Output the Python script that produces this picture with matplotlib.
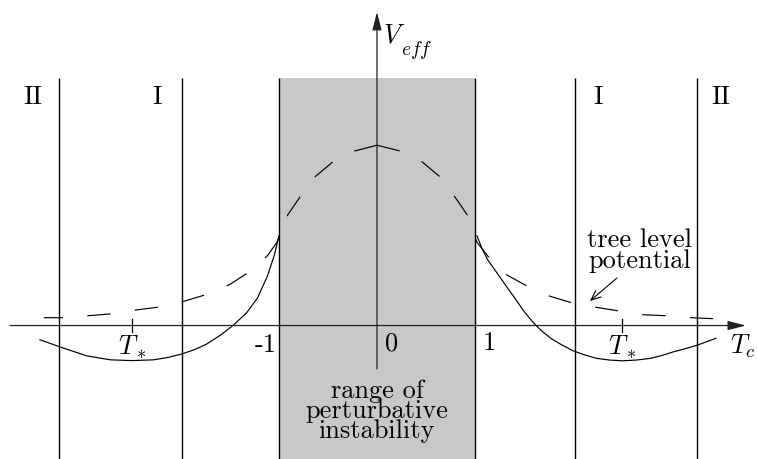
import matplotlib
matplotlib.use("Agg")
import matplotlib.pyplot as plt

plt.rcParams['mathtext.fontset'] = 'cm'
plt.rcParams['font.family'] = ['cmr10', 'DejaVu Serif']
plt.rcParams['axes.unicode_minus'] = False
plt.rcParams['lines.scale_dashes'] = False

# ---- data ----
# tree level potential (dashed), each half drawn from T_c = 0 outward
tree_x_left = [0.0, -0.23, -0.45, -0.63, -0.78, -0.91, -1.02, -1.12, -1.30, -1.50,
               -1.73, -1.96, -2.21, -2.45, -2.70, -2.95, -3.20, -3.40]
tree_y_left = [1.84, 1.78, 1.67, 1.52, 1.32, 1.13, 0.85, 0.71, 0.55, 0.42,
               0.32, 0.25, 0.19, 0.16, 0.12, 0.10, 0.08, 0.08]
tree_x_right = [0.0, 0.24, 0.46, 0.64, 0.79, 0.92, 1.02, 1.13, 1.30, 1.50,
                1.73, 1.96, 2.21, 2.46, 2.71, 2.96, 3.21, 3.43]
tree_y_right = [1.84, 1.78, 1.67, 1.52, 1.32, 1.13, 0.85, 0.71, 0.53, 0.42,
                0.31, 0.24, 0.19, 0.15, 0.11, 0.10, 0.08, 0.07]

# effective potential (solid) outside the instability range
veff_x_left = [-3.44, -3.23, -2.96, -2.72, -2.50, -2.28, -2.13, -1.99, -1.86, -1.74,
               -1.60, -1.47, -1.33, -1.22, -1.12, -1.05, -1.00]
veff_y_left = [-0.145, -0.22, -0.31, -0.35, -0.358, -0.35, -0.325, -0.29, -0.245, -0.19,
               -0.10, 0.0, 0.13, 0.28, 0.50, 0.71, 0.916]
veff_x_right = [1.02, 1.07, 1.13, 1.24, 1.32, 1.41, 1.50, 1.595, 1.68, 1.78, 1.89,
                2.00, 2.12, 2.24, 2.37, 2.50, 2.65, 2.79, 2.91, 3.02, 3.15, 3.27, 3.46]
veff_y_right = [0.916, 0.79, 0.67, 0.515, 0.40, 0.275, 0.145, 0.03, -0.055, -0.135, -0.20,
                -0.257, -0.30, -0.335, -0.352, -0.36, -0.352, -0.335, -0.305, -0.27, -0.235, -0.20, -0.13]

region_bounds = [-3.245, -1.99, 2.02, 3.265]
instability_range = [-1.0, 1.0]
region_labels = ['II', 'I', 'I', 'II']
region_label_x = [-3.51, -2.245, 2.255, 3.51]
t_star = [-2.5, 2.5]
axis_numbers = ['-1', '0', '1']

# ---- figure ----
fig = plt.figure(figsize=(7.57, 4.60), dpi=100)
ax = fig.add_axes([0, 0, 1, 1])
ax.set_xlim(-3.847, 3.878)
ax.set_ylim(-1.362, 3.332)
ax.axis('off')

top = 2.526
ax.fill_between(instability_range, -1.362, top, color='#c8c8c8', lw=0, zorder=0)
for xv in region_bounds + instability_range:
    ax.plot([xv, xv], [-1.362, top], color='black', lw=1.0, zorder=2,
            solid_capstyle='butt')

# axes with arrows
arrow_kw = dict(arrowstyle='-|>,head_length=1.1,head_width=0.28',
                lw=0.9, color='#222222', shrinkA=0, shrinkB=0, mutation_scale=10)
ax.annotate('', xy=(3.765, 0), xytext=(-3.745, 0), arrowprops=arrow_kw, zorder=3)
ax.annotate('', xy=(0, 3.199), xytext=(0, -0.444), arrowprops=arrow_kw, zorder=3)

# T* ticks
for t in t_star:
    ax.plot([t, t], [-0.07, 0.07], color='black', lw=0.9, zorder=3)

# curves
dash = (0, (16.8, 17.6))
ax.plot(tree_x_left, tree_y_left, color='black', lw=0.85, linestyle=dash, zorder=4)
ax.plot(tree_x_right, tree_y_right, color='black', lw=0.85, linestyle=dash, zorder=4)
ax.plot(veff_x_left, veff_y_left, color='black', lw=0.85, zorder=4)
ax.plot(veff_x_right, veff_y_right, color='black', lw=0.85, zorder=4)

fs = 19
for lab, xv in zip(region_labels, region_label_x):
    ax.text(xv, 2.27, lab, ha='center', va='baseline', fontsize=fs)

ax.text(0.061, 2.90, r'$V$', ha='left', va='baseline', fontsize=fs)
ax.text(0.245, 2.77, r'$eff$', ha='left', va='baseline', fontsize=14)
for t in t_star:
    ax.text(t, -0.29, r'$T_*$', ha='center', va='baseline', fontsize=fs)
ax.text(3.60, -0.28, r'$T_c$', ha='left', va='baseline', fontsize=fs)
ax.text(-1.02, -0.26, axis_numbers[0], ha='right', va='baseline', fontsize=fs)
ax.text(0.08, -0.24, axis_numbers[1], ha='left', va='baseline', fontsize=fs)
ax.text(1.08, -0.24, axis_numbers[2], ha='left', va='baseline', fontsize=fs)

# multi-line labels: va='baseline' aligns the last line
ax.text(0.0, -1.138, 'range of\nperturbative\ninstability', ha='center',
        va='baseline', multialignment='center', fontsize=fs, linespacing=0.79)

ax.text(2.684, 0.597, 'tree level\npotential', ha='center', va='baseline',
        multialignment='center', fontsize=fs, linespacing=0.86)
ax.annotate('', xy=(2.173, 0.25), xytext=(2.449, 0.485),
            arrowprops=dict(arrowstyle='->,head_length=0.7,head_width=0.3',
                            lw=0.8, color='black', shrinkA=0, shrinkB=0,
                            mutation_scale=10))

fig.savefig('out.png', dpi=100)
